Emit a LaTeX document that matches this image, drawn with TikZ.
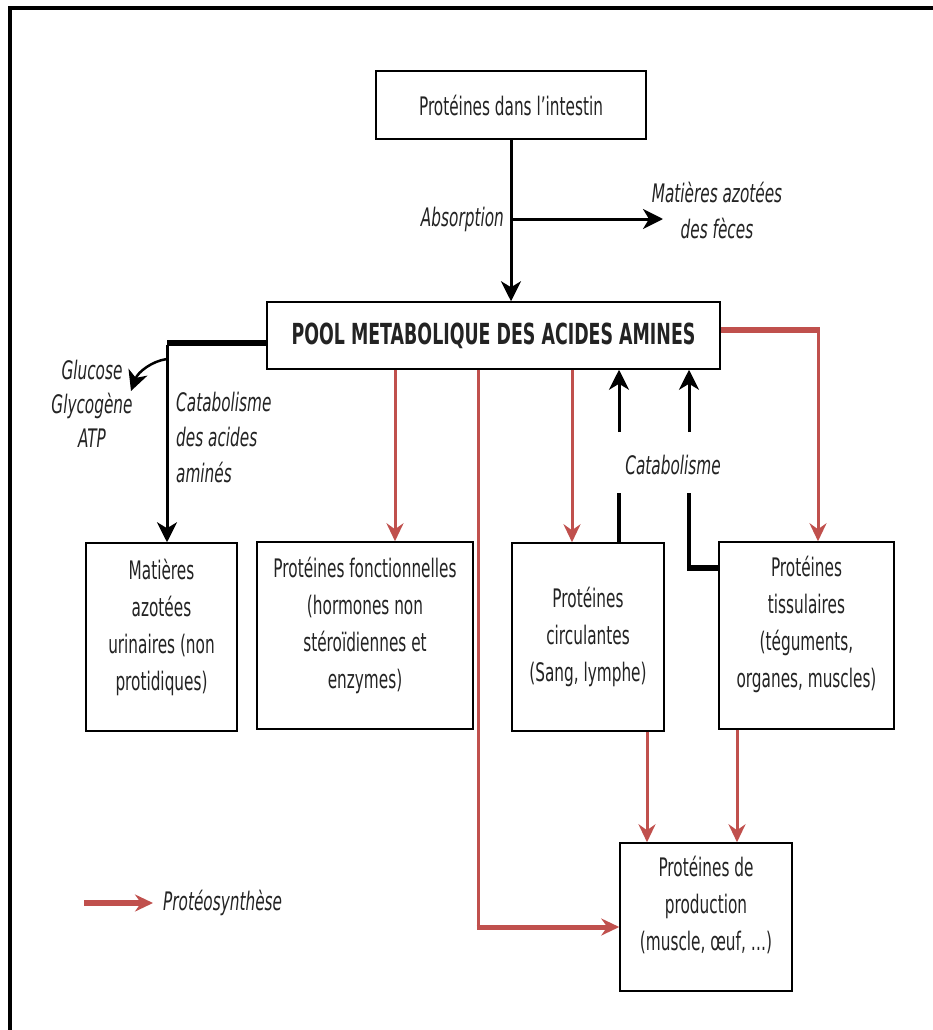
\documentclass[tikz,border=0pt]{standalone}
\usepackage{fontspec}
\setmainfont[FakeStretch=0.6]{DejaVu Sans}
\usetikzlibrary{arrows.meta,calc}
\definecolor{redline}{RGB}{192,80,77}
\definecolor{textc}{RGB}{35,35,35}
\tikzset{
  box/.style={draw=black, line width=1.5pt, fill=white, align=center, inner sep=0pt,
    text=textc, font=\fontsize{25.5}{37}\selectfont},
  lab/.style={inner sep=0pt, text=textc, font=\itshape\fontsize{25.5}{36}\selectfont},
  barrow/.style={draw=black, line width=3pt, -{Stealth[length=20pt,width=20pt,inset=6pt]}},
  bline/.style={draw=black, line width=3.5pt},
  bthick/.style={draw=black, line width=6pt},
  rarrow/.style={draw=redline, line width=3pt, -{Stealth[length=18pt,width=17pt,inset=6pt]}},
  rline/.style={draw=redline, line width=3pt},
  rthick/.style={draw=redline, line width=6pt},
}
\begin{document}
\begin{tikzpicture}[x=1pt,y=-1pt]
\useasboundingbox (0,0) rectangle (933,1030);
\fill[white] (0,0) rectangle (933,1030);
% frame
\draw[line width=4pt] (10,1030) -- (10,8) -- (933,8);

% boxes
\node[box, minimum width=270pt, minimum height=68pt] (top) at (511,105) {Protéines dans l'intestin};
\node[box, minimum width=453pt, minimum height=67pt, font=\bfseries\fontsize{29}{32}\selectfont] (pool) at (493.5,335.5) {POOL METABOLIQUE DES ACIDES AMINES};
\node[box, minimum width=151pt, minimum height=188pt] (mat) at (161.5,637) {Matières\\azotées\\urinaires (non\\protidiques)\\[-12pt]};
\node[box, minimum width=216pt, minimum height=187pt] (fonc) at (365,635.5) {Protéines fonctionnelles\\(hormones non\\stéroïdiennes et\\enzymes)\\[-12pt]};
\node[box, minimum width=152pt, minimum height=188pt] (circ) at (588,637) {Protéines\\circulantes\\(Sang, lymphe)};
\node[box, minimum width=175pt, minimum height=187pt] (tiss) at (806.5,635.5) {Protéines\\tissulaires\\(téguments,\\organes, muscles)\\[-10pt]};
\node[box, minimum width=172pt, minimum height=148pt] (prod) at (706,917) {Protéines de\\production\\(muscle, œuf, …)\\[-10pt]};

% labels
\node[lab, anchor=east] (absl) at (504,219) {Absorption};
\node[lab, align=center] (fecl) at (717,210) {Matières azotées\\des fèces};
\node[lab, align=center, font=\itshape\fontsize{25.5}{34}\selectfont] (glul) at (92,404) {Glucose\\Glycogène\\ATP};
\node[lab, align=left, anchor=west, font=\itshape\fontsize{25.5}{35.5}\selectfont] (catl) at (176,437) {Catabolisme\\des acides\\aminés};
\node[lab] (cat2) at (673,465) {Catabolisme};
\node[lab, anchor=west] (legl) at (163,903) {Protéosynthèse};

% coordinates
\coordinate (absj) at (top.south |- absl.east);
\coordinate (fecj) at (663,219);
\coordinate (lj) at (167,343);
\coordinate (cs) at (167,359);
\coordinate (gtip) at (131,391);
\coordinate (cf) at (395,0);
\coordinate (rl) at (478,927);
\coordinate (cc) at (572,0);
\coordinate (ku1) at (619,432);
\coordinate (ku2) at (689,432);
\coordinate (kd1) at (619,493);
\coordinate (kd2) at (689,493);
\coordinate (kj) at (689,568);
\coordinate (rt) at (818,330);
\coordinate (cp1) at (647,0);
\coordinate (cp2) at (737,0);
\coordinate (lg1) at (84,903);

% black connectors
\draw[barrow] (top.south) -- (top.south |- pool.north);
\draw[barrow] (absj) -- (fecj);
\draw[bthick] (pool.west |- lj) -- (lj);
\draw[barrow] ([yshift=-2pt]lj) -- (lj |- mat.north);
\draw[barrow, line width=2.5pt] (cs) .. controls (152,361) and (138,372) .. (gtip);
\draw[barrow] (ku1) -- (ku1 |- pool.south);
\draw[barrow] (ku2) -- (ku2 |- pool.south);
\draw[bline] (circ.north -| kd1) -- (kd1);
\draw[bline] (kd2) -- (kj);
\draw[bthick] ([xshift=-1.75pt]kj) -- (kj -| tiss.west);

% red connectors
\draw[rarrow] (pool.south -| cf) -- (fonc.north -| cf);
\draw[rline] (pool.south -| rl) -- ([yshift=2pt]rl);
\draw[rarrow, line width=5pt] ([xshift=-1.5pt]rl) -- (rl -| prod.west);
\draw[rarrow] (pool.south -| cc) -- (circ.north -| cc);
\draw[rthick] (pool.east |- rt) -- ([xshift=1.5pt]rt);
\draw[rarrow] (rt) -- (rt |- tiss.north);
\draw[rarrow] (circ.south -| cp1) -- (prod.north -| cp1);
\draw[rarrow] (tiss.south -| cp2) -- (prod.north -| cp2);

% legend
\draw[rarrow, line width=6pt, shorten >=10pt] (lg1) -- (legl.west);
\end{tikzpicture}
\end{document}
